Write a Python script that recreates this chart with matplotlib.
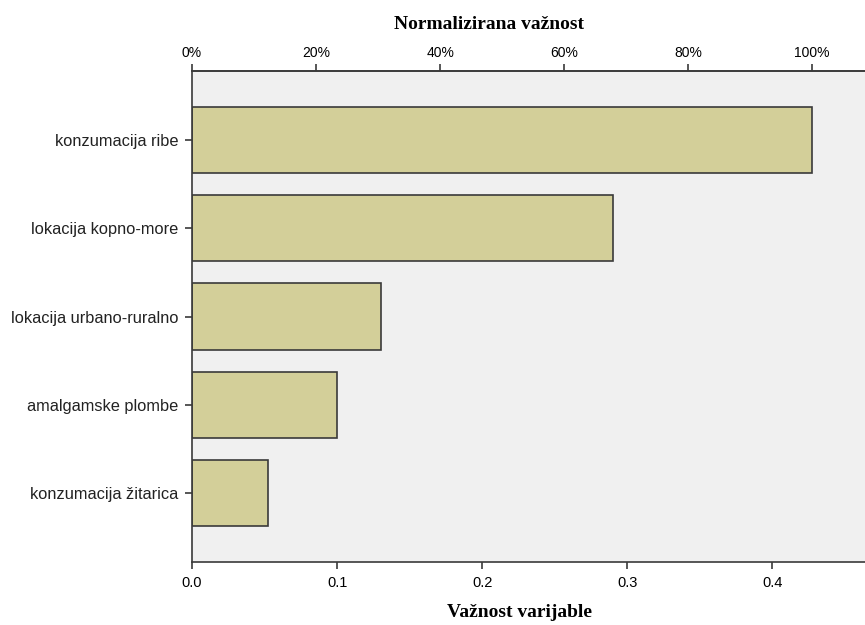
import matplotlib.pyplot as plt
from matplotlib.ticker import PercentFormatter

# Data
variables = ['konzumacija ribe', 'lokacija kopno-more', 'lokacija urbano-ruralno',
             'amalgamske plombe', 'konzumacija žitarica']
importance = [0.4276, 0.2903, 0.1303, 0.1000, 0.0524]
x_ticks = [0.0, 0.1, 0.2, 0.3, 0.4]
pct_ticks = [0, 20, 40, 60, 80, 100]

bar_color = '#d3cf99'
bg_color = '#f0f0f0'
line_color = '#3a3a3a'

fig = plt.figure(figsize=(8.65, 6.25), dpi=100)
ax = fig.add_axes([0.222, 0.1008, 0.778, 0.7856])
ax.set_facecolor(bg_color)

ypos = list(range(len(variables)))
ax.barh(ypos, importance, height=0.75, color=bar_color, edgecolor=line_color, linewidth=1.2)
ax.set_ylim(4.78, -0.78)
ax.set_xlim(0, 0.464)

ax.set_yticks(ypos)
ax.set_yticklabels(variables, fontsize=11.8, family='Liberation Sans', color='#222222')
ax.set_xticks(x_ticks)
ax.set_xticklabels([f'{v:.1f}' for v in x_ticks], fontsize=10.5, family='Liberation Sans')
ax.tick_params(axis='both', direction='out', length=5, width=1.2, color=line_color)
ax.tick_params(axis='y', pad=5)
ax.tick_params(axis='x', pad=5)

for side in ['left', 'bottom', 'top']:
    ax.spines[side].set_color(line_color)
    ax.spines[side].set_linewidth(1.2)
ax.spines['right'].set_visible(False)

ax.set_xlabel('Važnost varijable', fontsize=14, fontweight='bold',
              family='Liberation Serif')
ax.xaxis.set_label_coords(0.486, -0.085)

vmax = max(importance)
top = ax.secondary_xaxis('top', functions=(lambda x: x / vmax * 100, lambda p: p * vmax / 100))
top.set_xticks(pct_ticks)
top.xaxis.set_major_formatter(PercentFormatter(decimals=0))
top.tick_params(direction='out', length=5, width=1.2, color=line_color, labelsize=10, pad=3)
for lbl in top.get_xticklabels():
    lbl.set_family('Liberation Sans')
top.spines['top'].set_color(line_color)
top.spines['top'].set_linewidth(1.2)
top.set_xlabel('Normalizirana važnost', fontsize=14, fontweight='bold',
               family='Liberation Serif', labelpad=12)
top.xaxis.label.set_x(0.441)

fig.savefig('out.png', dpi=100)
